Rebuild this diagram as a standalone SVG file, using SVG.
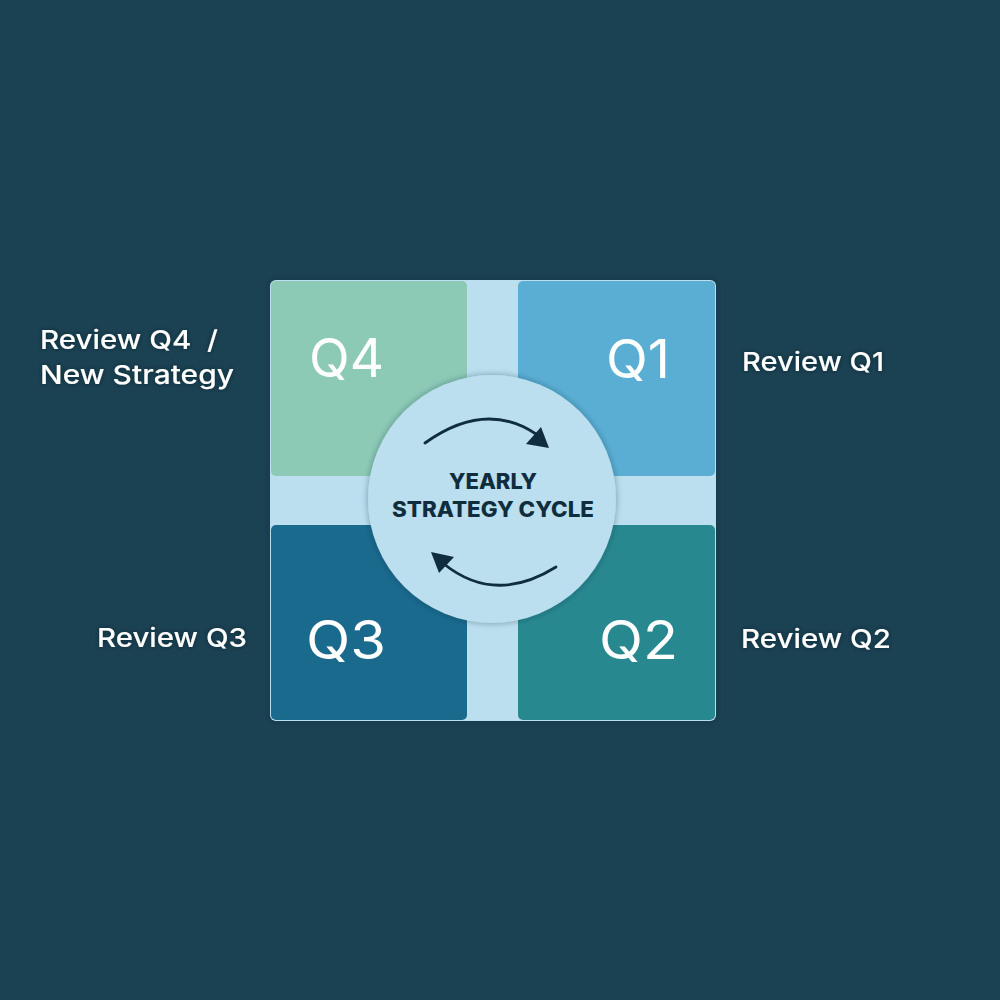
<svg xmlns="http://www.w3.org/2000/svg" width="1000" height="1000" viewBox="0 0 1000 1000">
<defs>
<style>
.q{font-family:Inter,"Open Sans","DejaVu Sans",sans-serif;font-size:53px;fill:#ffffff;font-weight:400}
.lab{font-family:Inter,"Open Sans","DejaVu Sans",sans-serif;font-size:26px;fill:#ffffff;font-weight:500;white-space:pre}
.ctr{font-family:Inter,"Open Sans","DejaVu Sans",sans-serif;font-size:21px;fill:#0f2d3d;font-weight:800;text-anchor:middle}
.arc{fill:none;stroke:#0f2d3d;stroke-width:2.8}
</style>
<filter id="glow" x="-20%" y="-20%" width="140%" height="140%">
<feDropShadow dx="0" dy="0" stdDeviation="2" flood-color="#06202c" flood-opacity="0.8"/>
</filter>
<filter id="sh" x="-10%" y="-10%" width="120%" height="120%">
<feDropShadow dx="0" dy="0" stdDeviation="3" flood-color="#0a2a38" flood-opacity="0.4"/>
</filter>
</defs>
<rect x="0" y="0" width="1000" height="1000" fill="#1b4253"/>
<g id="frame">
<rect x="270" y="280" width="446" height="441" rx="6" fill="#bbdfee" filter="url(#sh)"/>
</g>
<g id="q4">
<rect x="271" y="281" width="196" height="195" rx="5" fill="#8ccab6"/>
<text class="q" x="309" y="377" textLength="75" lengthAdjust="spacingAndGlyphs">Q4</text>
</g>
<g id="q1">
<rect x="518" y="281" width="197" height="195" rx="5" fill="#5aaed4"/>
<text class="q" x="606" y="378" textLength="64" lengthAdjust="spacingAndGlyphs">Q1</text>
</g>
<g id="q3">
<rect x="271" y="525" width="196" height="195" rx="5" fill="#1a6a8e"/>
<text class="q" x="306" y="659" textLength="80" lengthAdjust="spacingAndGlyphs">Q3</text>
</g>
<g id="q2">
<rect x="518" y="525" width="197" height="195" rx="5" fill="#288890"/>
<text class="q" x="599" y="659" textLength="79" lengthAdjust="spacingAndGlyphs">Q2</text>
</g>
<g id="center">
<circle cx="492" cy="499" r="124" fill="#bbdfee" filter="url(#sh)"/>
<text class="ctr" x="493" y="489" textLength="88" lengthAdjust="spacingAndGlyphs">YEARLY</text>
<text class="ctr" x="493" y="517" textLength="202" lengthAdjust="spacingAndGlyphs">STRATEGY CYCLE</text>
</g>
<g id="connectors">
<path class="arc" d="M425,443 Q485,400 536,434" stroke-linecap="round"/>
<path d="M549,448 L526,444 L541,427 z" fill="#0f2d3d"/>
<path class="arc" d="M556,567 Q495,605 444,564" stroke-linecap="round"/>
<path d="M431,552 L454,557 L439,573 z" fill="#0f2d3d"/>
</g>
<g id="labels" filter="url(#glow)">
<text class="lab" x="40" y="349" textLength="178" lengthAdjust="spacingAndGlyphs" xml:space="preserve">Review Q4  /</text>
<text class="lab" x="40" y="384" textLength="194" lengthAdjust="spacingAndGlyphs">New Strategy</text>
<text class="lab" x="742" y="371" textLength="142" lengthAdjust="spacingAndGlyphs">Review Q1</text>
<text class="lab" x="97" y="647" textLength="150" lengthAdjust="spacingAndGlyphs">Review Q3</text>
<text class="lab" x="741" y="648" textLength="150" lengthAdjust="spacingAndGlyphs">Review Q2</text>
</g>
</svg>
